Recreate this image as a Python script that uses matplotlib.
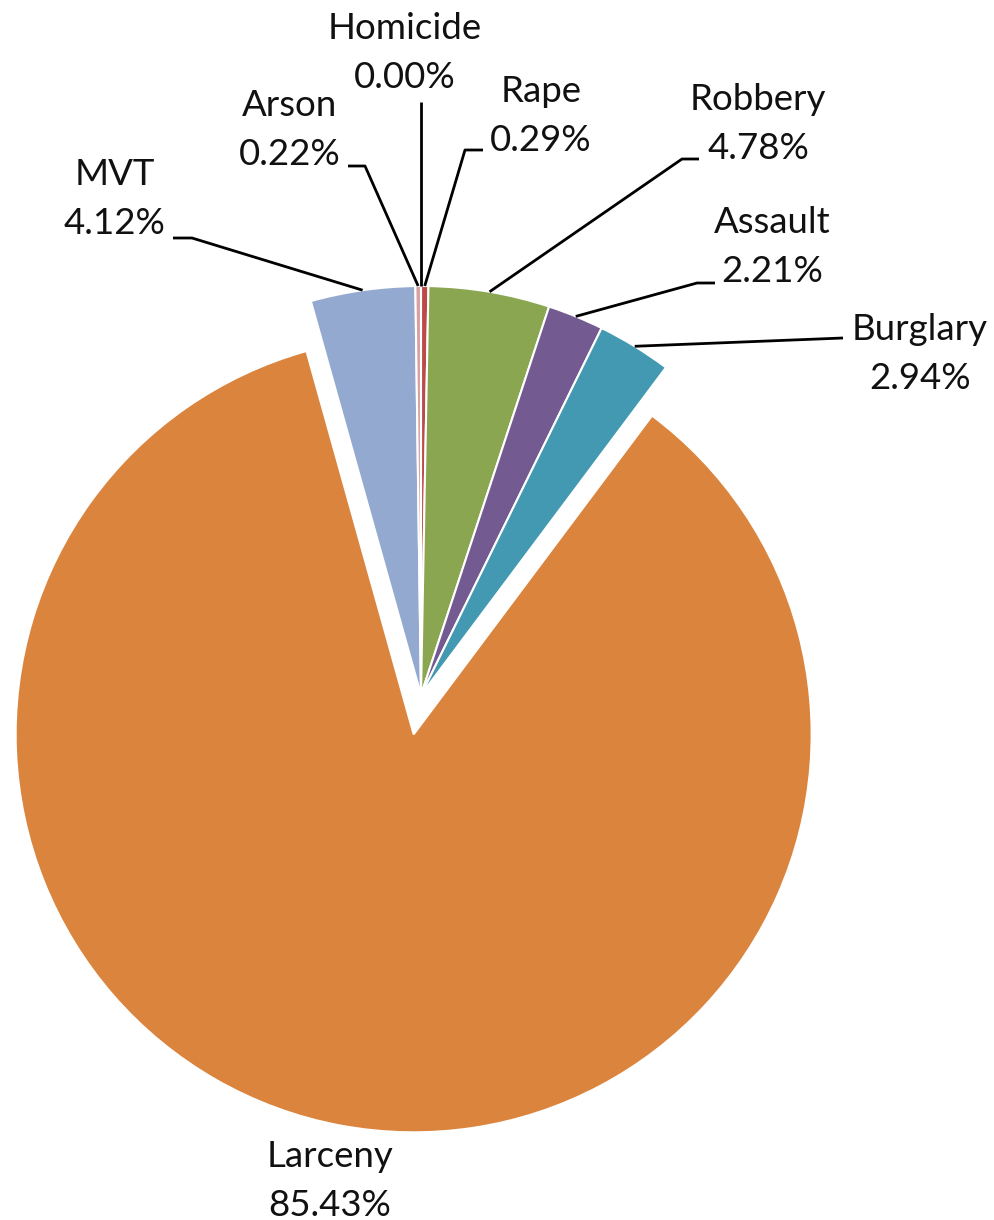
import matplotlib
matplotlib.use("Agg")
import matplotlib.pyplot as plt
import numpy as np

# ---- data ----
categories = ["Homicide", "Rape", "Robbery", "Assault", "Burglary", "Larceny", "MVT", "Arson"]
shares = [0.00, 0.29, 4.78, 2.21, 2.94, 85.43, 4.12, 0.22]
colors = ["#4A7AB5", "#BA4B48", "#8BA650", "#735A91", "#4399B1", "#DB843D", "#93A9CF", "#D9A0A0"]

# ---- layout (pixels from the top-left corner) ----
W, H = 994, 1220
PIE_CX, PIE_CY, PIE_R = 421, 695, 409
LARCENY_R = 398
EXPLODE_PX = 40
FS = 26.4
FONT = ["Lato", "DejaVu Sans"]

label_x = [405, 541, 758, 772, 920, 330, 115, 290]
label_base = [39, 102, 110, 233, 340, 1167, 185, 116]
LINE_GAP = 49
leader_start = [(421, 102), (483, 150), (699, 159), (715, 283), (843, 338), None, (173, 238), (348, 166)]
leader_elbow = [None, (465, 150), (682, 159), (697, 283), None, None, (192, 238), (365, 166)]

fig = plt.figure(figsize=(W / 100, H / 100), dpi=100)
ax = fig.add_axes([0, 0, 1, 1])

explode = [EXPLODE_PX if c == "Larceny" else 0 for c in categories]
wedges, _ = ax.pie(shares, colors=colors, startangle=90, counterclock=False,
                   center=(PIE_CX, H - PIE_CY), radius=PIE_R, explode=explode,
                   wedgeprops=dict(edgecolor="white", linewidth=1.5))
wedges[categories.index("Larceny")].set_radius(LARCENY_R)

ax.set_xlim(0, W)
ax.set_ylim(0, H)
ax.set_aspect("equal")
ax.axis("off")

for i, (cat, val) in enumerate(zip(categories, shares)):
    w = wedges[i]
    x = label_x[i]
    yb = H - label_base[i]
    ax.text(x, yb, cat, ha="center", va="baseline", fontsize=FS, family=FONT, color="#111111")
    ax.text(x, yb - LINE_GAP, f"{val:.2f}%", ha="center", va="baseline", fontsize=FS,
            family=FONT, color="#111111")
    if leader_start[i] is None:
        continue
    th = np.deg2rad((w.theta1 + w.theta2) / 2)
    cx, cy = w.center
    px, py = cx + w.r * np.cos(th), cy + w.r * np.sin(th)
    pts = [leader_start[i]]
    if leader_elbow[i] is not None:
        pts.append(leader_elbow[i])
    xs = [p[0] for p in pts] + [px]
    ys = [H - p[1] for p in pts] + [py]
    ax.plot(xs, ys, color="black", lw=2.0, solid_capstyle="butt", zorder=5)

fig.savefig("out.png", dpi=100, facecolor="white")
